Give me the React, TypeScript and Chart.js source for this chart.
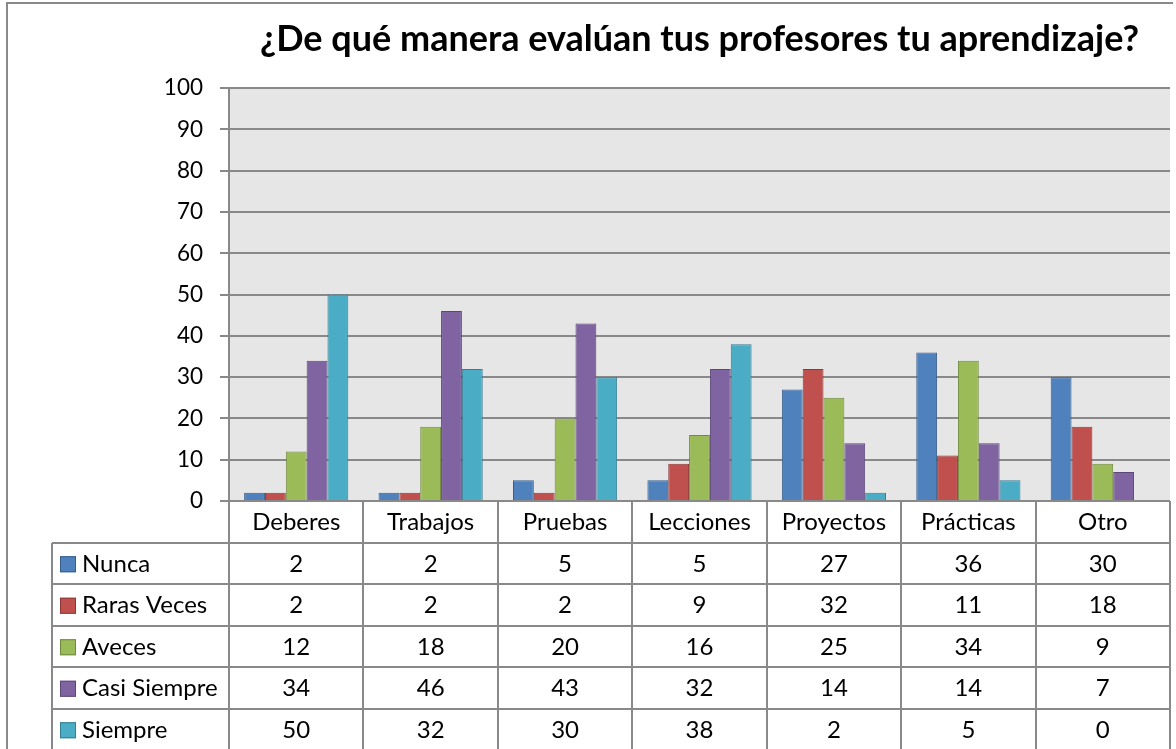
import React, { useEffect, useRef } from "react";
import { Chart, registerables } from "chart.js";

Chart.register(...registerables);

const TITLE = "¿De qué manera evalúan tus profesores tu aprendizaje?";
const CATEGORIES = ["Deberes", "Trabajos", "Pruebas", "Lecciones", "Proyectos", "Prácticas", "Otro"];
const SERIES_NAMES = ["Nunca", "Raras Veces", "Aveces", "Casi Siempre", "Siempre"];
const NUNCA = [2, 2, 5, 5, 27, 36, 30];
const RARAS_VECES = [2, 2, 2, 9, 32, 11, 18];
const AVECES = [12, 18, 20, 16, 25, 34, 9];
const CASI_SIEMPRE = [34, 46, 43, 32, 14, 14, 7];
const SIEMPRE = [50, 32, 30, 38, 2, 5, 0];
const Y_MIN = 0;
const Y_MAX = 100;
const Y_STEP = 10;

const FILLS = ["#4F81BD", "#C0504D", "#9BBB59", "#8064A2", "#4BACC6"];
const BORDERS = ["#385D8A", "#8C3836", "#71893F", "#5C4776", "#357D91"];
const LINE = "#898989";
const FONT = "Lato, 'Noto Sans', sans-serif";
const FONT_SIZE = 24;
const TICK_FONT_SIZE = 22.5;

const tablePlugin = {
  id: "dataTable",
  beforeDraw(chart: any) {
    const { ctx, chartArea: ca } = chart;
    ctx.save();
    ctx.fillStyle = "#e6e6e6";
    ctx.fillRect(ca.left, ca.top, ca.right - ca.left, ca.bottom - ca.top);
    ctx.restore();
  },
  afterDraw(chart: any) {
    const { ctx, chartArea: ca, scales } = chart;
    const x = scales.x;
    const H = chart.height;
    const colW = (ca.right - ca.left) / CATEGORIES.length;
    const rowH = 41.5;
    const tableLeft = 52;
    const seriesData = chart.data.datasets.map((d: any) => d.data);
    ctx.save();
    // outer frame
    ctx.strokeStyle = LINE;
    ctx.lineWidth = 2;
    ctx.beginPath();
    ctx.moveTo(7, H + 5);
    ctx.lineTo(7, 3);
    ctx.lineTo(1173, 3);
    ctx.stroke();

    // table lines
    ctx.beginPath();
    for (let k = 1; k <= SERIES_NAMES.length; k++) {
      const y = Math.round(ca.bottom + k * rowH);
      ctx.moveTo(tableLeft, y);
      ctx.lineTo(ca.right, y);
    }
    const y1 = Math.round(ca.bottom + rowH);
    ctx.moveTo(tableLeft, y1);
    ctx.lineTo(tableLeft, H + 5);
    for (let i = 0; i <= CATEGORIES.length; i++) {
      const bx = Math.round(ca.left + i * colW);
      ctx.moveTo(bx, ca.bottom);
      ctx.lineTo(bx, H + 5);
    }
    ctx.stroke();

    // text
    ctx.fillStyle = "#000";
    ctx.font = `${FONT_SIZE}px ${FONT}`;
    ctx.textBaseline = "middle";
    CATEGORIES.forEach((c, i) => {
      const cx = x.getPixelForValue(i);
      const w = ctx.measureText(c).width;
      const left = Math.max(cx - w / 2, cx - colW / 2 + 3);
      ctx.textAlign = "left";
      ctx.fillText(c, left, ca.bottom + rowH / 2 + 1);
    });
    SERIES_NAMES.forEach((name, k) => {
      const cy = ca.bottom + (k + 1) * rowH + rowH / 2 + 1;
      ctx.fillStyle = FILLS[k];
      ctx.fillRect(60, cy - 8, 16, 16);
      ctx.strokeStyle = BORDERS[k];
      ctx.lineWidth = 1;
      ctx.strokeRect(60.5, cy - 7.5, 15, 15);
      ctx.fillStyle = "#000";
      ctx.textAlign = "left";
      ctx.fillText(name, 82, cy);
      ctx.textAlign = "center";
      seriesData[k].forEach((v: number, i: number) => {
        ctx.fillText(String(v), x.getPixelForValue(i), cy);
      });
    });
    ctx.restore();
  },
};

const makeDataset = (label: string, data: number[], k: number) => ({
  label,
  data,
  backgroundColor: FILLS[k],
  borderColor: BORDERS[k],
  borderWidth: 1,
  categoryPercentage: 0.775,
  barPercentage: 1,
});

export default function App() {
  const ref = useRef<HTMLCanvasElement | null>(null);
  useEffect(() => {
    if (!ref.current) return;
    const chart = new Chart(ref.current, {
      type: "bar",
      data: {
        labels: CATEGORIES,
        datasets: [
          makeDataset(SERIES_NAMES[0], NUNCA, 0),
          makeDataset(SERIES_NAMES[1], RARAS_VECES, 1),
          makeDataset(SERIES_NAMES[2], AVECES, 2),
          makeDataset(SERIES_NAMES[3], CASI_SIEMPRE, 3),
          makeDataset(SERIES_NAMES[4], SIEMPRE, 4),
        ],
      },
      options: {
        animation: false,
        responsive: false,
        maintainAspectRatio: false,
        layout: { padding: { top: 0, right: 6, bottom: 0, left: 0 } },
        plugins: {
          legend: { display: false },
          tooltip: { enabled: false },
          title: {
            display: true,
            text: TITLE,
            fullSize: false,
            color: "#000",
            font: { family: FONT, size: 36, weight: "bold" },
            padding: { top: 18, bottom: 27 },
          },
        },
        scales: {
          x: {
            ticks: { display: false },
            grid: { display: false },
            border: { display: false },
            afterFit(scale: any) {
              scale.height = 248;
            },
          },
          y: {
            min: Y_MIN,
            max: Y_MAX,
            ticks: {
              stepSize: Y_STEP,
              color: "#000",
              padding: 17,
              font: { family: FONT, size: TICK_FONT_SIZE },
            },
            grid: { color: LINE, lineWidth: 2, tickLength: 9 },
            border: { display: true, color: LINE, width: 2 },
            afterFit(scale: any) {
              scale.width = 229;
            },
          },
        },
      },
      plugins: [tablePlugin],
    });
    return () => chart.destroy();
  }, []);
  return (
    <div style={{ position: "fixed", left: 0, top: 0, width: 1176, height: 749, background: "#fff" }}>
      <canvas ref={ref} width={1176} height={749} style={{ display: "block" }} />
    </div>
  );
}
